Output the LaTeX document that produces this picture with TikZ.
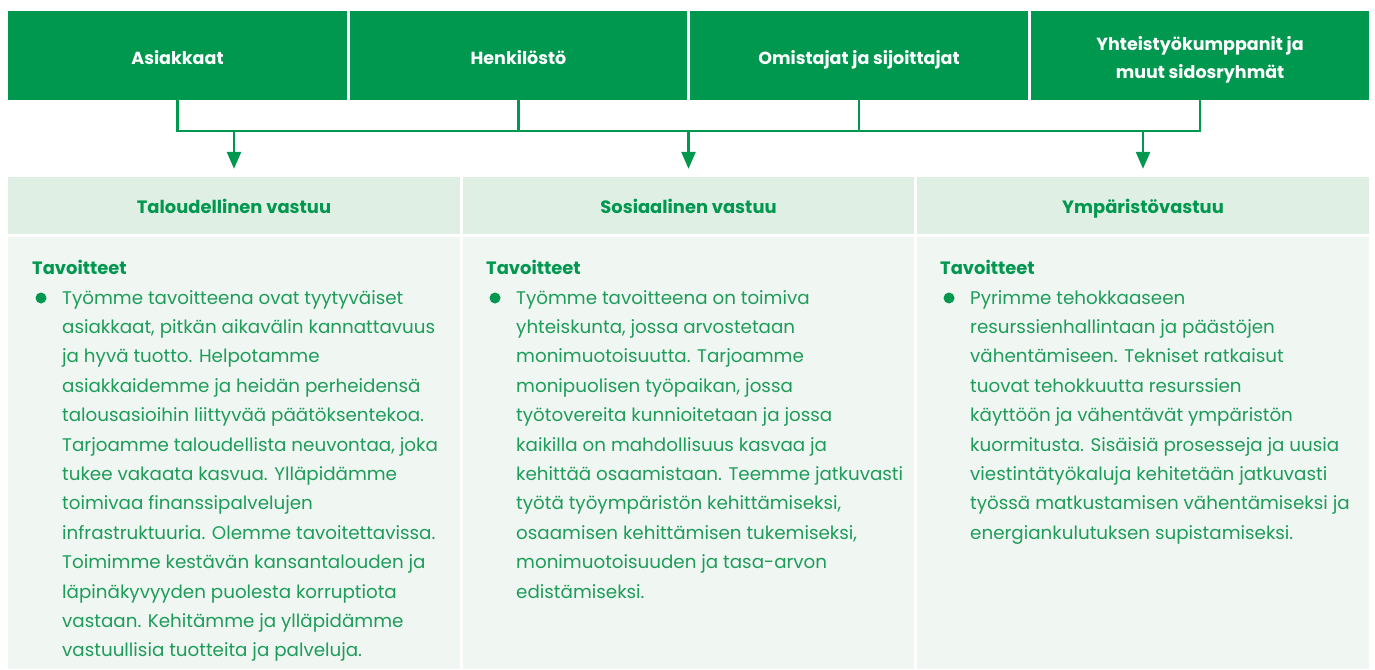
\documentclass[tikz,border=0pt]{standalone}
\usepackage{fontspec}
\setmainfont{Poppins}
\usetikzlibrary{arrows.meta}
\definecolor{dg}{HTML}{00974F}
\definecolor{hbg}{HTML}{E0EFE4}
\definecolor{bbg}{HTML}{F0F6F2}
\definecolor{tg}{HTML}{1E9C5A}
\begin{document}
\begin{tikzpicture}[x=1pt,y=-1pt,
  topbox/.style={fill=dg,text=white,font=\bfseries\fontsize{17.5}{28}\selectfont,minimum height=89pt,inner sep=0pt,align=center},
  oneline/.style={text height=17pt,text depth=0pt},
  hdrbox/.style={fill=hbg,text=dg,font=\bfseries\fontsize{17.9}{28}\selectfont,minimum height=57pt,minimum width=452pt,inner sep=0pt,text height=15pt,text depth=0pt},
  bodybox/.style={fill=bbg,minimum height=432pt,minimum width=452pt,inner sep=0pt},
  goal/.style={text=dg,font=\bfseries\fontsize{17.9}{20}\selectfont,anchor=base west,inner sep=0pt},
  bodytext/.style={text=tg,font=\fontsize{18.3}{29.4}\selectfont,align=left,anchor=north west,inner sep=0pt},
  dot/.style={circle,fill=dg,minimum size=11pt,inner sep=0pt},
  conn/.style={draw=dg,line width=2.5pt,line join=miter},
  arr/.style={conn,-{Triangle[width=14pt,length=17pt]}}]
\useasboundingbox (0,0) rectangle (1375,669);
% stakeholder boxes
\node[topbox,oneline,minimum width=339pt] (s1) at (177.5,55.5) {Asiakkaat};
\node[topbox,oneline,minimum width=337pt] (s2) at (518.5,55.5) {Henkilöstö};
\node[topbox,oneline,minimum width=338pt] (s3) at (859,55.5) {Omistajat ja sijoittajat};
\node[topbox,minimum width=338pt,text height=45pt,text depth=0pt] (s4) at (1200,55.5) {Yhteistyökumppanit ja\\muut sidosryhmät};
% responsibility headers
\node[hdrbox] (h1) at (234,205.5) {Taloudellinen vastuu};
\node[hdrbox,minimum width=451pt] (h2) at (688.5,205.5) {Sosiaalinen vastuu};
\node[hdrbox] (h3) at (1143,205.5) {Ympäristövastuu};
% bodies
\node[bodybox] (c1) at (234,453) {};
\node[bodybox,minimum width=451pt] (c2) at (688.5,453) {};
\node[bodybox] (c3) at (1143,453) {};
% connectors
\coordinate (bus) at (178,131);
\draw[conn] (s1.south) -- (s1.south |- bus) -- (s4.south |- bus) -- (s4.south);
\draw[conn] (s2.south) -- (s2.south |- bus);
\draw[conn] (s3.south) -- (s3.south |- bus);
\draw[arr] (h1.north |- bus) -- ([yshift=8pt]h1.north);
\draw[arr] (h2.north |- bus) -- ([yshift=8pt]h2.north);
\draw[arr] (h3.north |- bus) -- ([yshift=8pt]h3.north);
% column 1
\node[goal] (g1) at (32,274) {Tavoitteet};
\node[dot] (d1) at (41,298) {};
\node[bodytext] (t1) at (62,290) {Työmme tavoitteena ovat tyytyväiset\\
asiakkaat, pitkän aikavälin kannattavuus\\
ja hyvä tuotto. Helpotamme\\
asiakkaidemme ja heidän perheidensä\\
talousasioihin liittyvää päätöksentekoa.\\
Tarjoamme taloudellista neuvontaa, joka\\
tukee vakaata kasvua. Ylläpidämme\\
toimivaa finanssipalvelujen\\
infrastruktuuria. Olemme tavoitettavissa.\\
Toimimme kestävän kansantalouden ja\\
läpinäkyvyyden puolesta korruptiota\\
vastaan. Kehitämme ja ylläpidämme\\
vastuullisia tuotteita ja palveluja.};
% column 2
\node[goal] (g2) at (486,274) {Tavoitteet};
\node[dot] (d2) at (495,298) {};
\node[bodytext] (t2) at (516,290) {Työmme tavoitteena on toimiva\\
yhteiskunta, jossa arvostetaan\\
monimuotoisuutta. Tarjoamme\\
monipuolisen työpaikan, jossa\\
työtovereita kunnioitetaan ja jossa\\
kaikilla on mahdollisuus kasvaa ja\\
kehittää osaamistaan. Teemme jatkuvasti\\
työtä työympäristön kehittämiseksi,\\
osaamisen kehittämisen tukemiseksi,\\
monimuotoisuuden ja tasa-arvon\\
edistämiseksi.};
% column 3
\node[goal] (g3) at (940,274) {Tavoitteet};
\node[dot] (d3) at (949,298) {};
\node[bodytext] (t3) at (970,290) {Pyrimme tehokkaaseen\\
resurssienhallintaan ja päästöjen\\
vähentämiseen. Tekniset ratkaisut\\
tuovat tehokkuutta resurssien\\
käyttöön ja vähentävät ympäristön\\
kuormitusta. Sisäisiä prosesseja ja uusia\\
viestintätyökaluja kehitetään jatkuvasti\\
työssä matkustamisen vähentämiseksi ja\\
energiankulutuksen supistamiseksi.};
\end{tikzpicture}
\end{document}
